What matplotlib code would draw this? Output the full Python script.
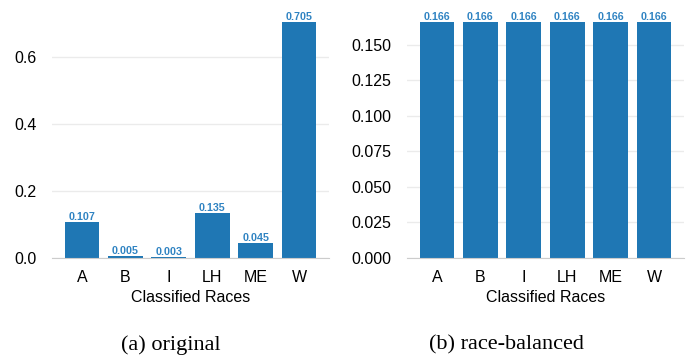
import matplotlib.pyplot as plt

races = ['A', 'B', 'I', 'LH', 'ME', 'W']
original = [0.107, 0.005, 0.003, 0.135, 0.045, 0.705]
balanced = [0.166, 0.166, 0.166, 0.166, 0.166, 0.166]
captions = ['(a) original', '(b) race-balanced']
yticks_a = [0.0, 0.2, 0.4, 0.6]
yticks_b = [0.000, 0.025, 0.050, 0.075, 0.100, 0.125, 0.150]

plt.rcParams['font.family'] = ['Liberation Sans', 'DejaVu Sans']

fig = plt.figure(figsize=(6.93, 3.62), dpi=100)
ax1 = fig.add_axes([52 / 693, 1 - 258 / 362, 277 / 693, 248 / 362])
ax2 = fig.add_axes([407 / 693, 1 - 258 / 362, 277 / 693, 248 / 362])

blue = '#1f77b4'
cap_x = [171 / 693, 506 / 693]
for ax, vals, ticks, fmt, cap, cx in [(ax1, original, yticks_a, '{:.1f}', captions[0], cap_x[0]),
                                       (ax2, balanced, yticks_b, '{:.3f}', captions[1], cap_x[1])]:
    x = range(len(races))
    bars = ax.bar(x, vals, width=0.8, color=blue, zorder=2)
    for b, v in zip(bars, vals):
        ax.text(b.get_x() + b.get_width() / 2, v, f'{v:.3f}', ha='center', va='bottom',
                fontsize=7.7, fontweight='bold', color='#2f83c2')
    ax.set_xticks(list(x))
    ax.set_xticklabels(races)
    ax.set_yticks(ticks)
    ax.set_yticklabels([fmt.format(t) for t in ticks])
    ax.tick_params(axis='y', length=0, labelsize=11.5, pad=11)
    ax.tick_params(axis='x', length=0, labelsize=11.5, pad=9)
    ax.grid(axis='y', color='#ebebeb', linewidth=1, zorder=0)
    for s in ['top', 'right', 'left']:
        ax.spines[s].set_visible(False)
    ax.spines['bottom'].set_color('#cccccc')
    ax.set_xlabel('Classified Races', fontsize=11.5, labelpad=3)
    fig.text(cx, 1 - 335 / 362, cap, ha='center', va='top',
             fontsize=16, family=['Liberation Serif', 'DejaVu Serif'])

fig.savefig('out.png', dpi=100)
